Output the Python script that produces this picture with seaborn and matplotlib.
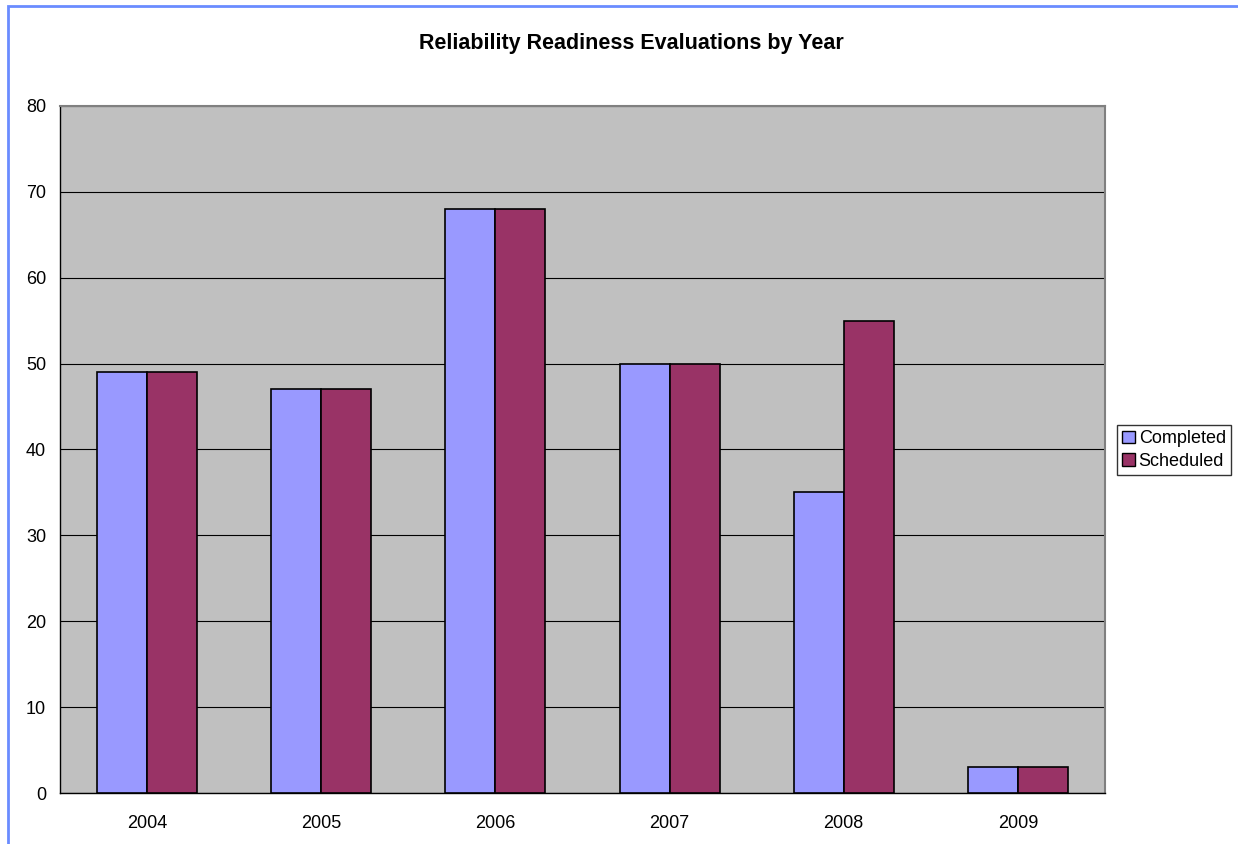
import matplotlib
matplotlib.use("Agg")
import matplotlib.pyplot as plt
import seaborn as sns
import pandas as pd
from matplotlib.patches import Rectangle, Patch
import numpy as np

years = ["2004", "2005", "2006", "2007", "2008", "2009"]
completed = [49, 47, 68, 50, 35, 3]
scheduled = [49, 47, 68, 50, 55, 3]
series_names = ["Completed", "Scheduled"]
colors = ["#9999FF", "#993366"]
yticks = [0, 10, 20, 30, 40, 50, 60, 70, 80]

df = pd.DataFrame({
    "year": years * 2,
    "value": completed + scheduled,
    "series": [series_names[0]] * len(years) + [series_names[1]] * len(years),
})

sns.set_style("white")
plt.rcParams["font.family"] = ["Liberation Sans", "DejaVu Sans"]
plt.rcParams["text.color"] = "black"
plt.rcParams["xtick.color"] = "black"
plt.rcParams["ytick.color"] = "black"

fig = plt.figure(figsize=(12.38, 8.44), dpi=100)
ax = fig.add_axes([60/1238, 1-793/844, (1105-60)/1238, (793-106)/844])
ax.set_facecolor("#C0C0C0")

sns.barplot(data=df, x="year", y="value", hue="series", palette=colors,
            width=0.574, edgecolor="black", linewidth=1.2, saturation=1,
            ax=ax, legend=False, zorder=3)

ax.set_ylim(0, 80)
ax.set_xlim(-0.5, len(years) - 0.5)
ax.set_yticks(yticks)
ax.set_yticklabels([str(v) for v in yticks], fontsize=13)
ax.yaxis.grid(True, color="black", linewidth=0.8, zorder=0)
ax.set_axisbelow(True)

# x ticks at category boundaries
ax.set_xticks(np.arange(-0.5, len(years), 1.0))
ax.set_xticklabels([""] * (len(years) + 1))
ax.set_xticks(np.arange(len(years)), minor=True)
ax.set_xticklabels(years, minor=True, fontsize=13)
ax.tick_params(axis="x", which="major", direction="out", length=6, width=1, color="black")
ax.tick_params(axis="x", which="minor", length=0, pad=16, labelcolor="black")
ax.tick_params(axis="y", direction="out", length=6, width=1, color="black", pad=4, labelcolor="black")

ax.set_xlabel("")
ax.set_ylabel("")
for s in ["top", "right"]:
    ax.spines[s].set_color("#808080")
    ax.spines[s].set_linewidth(1.5)
for s in ["left", "bottom"]:
    ax.spines[s].set_color("black")
    ax.spines[s].set_linewidth(1)

fig.text(631/1238, 1-43/844, "Reliability Readiness Evaluations by Year",
         ha="center", va="center", fontsize=15.5, fontweight="bold", color="black")

handles = [Patch(facecolor=c, edgecolor="black", linewidth=1) for c in colors]
leg = fig.legend(handles, series_names, loc="center left",
                 bbox_to_anchor=(1117/1238, 1-450/844), fontsize=13,
                 frameon=True, fancybox=False, edgecolor="black",
                 handlelength=0.7, handleheight=0.7, handletextpad=0.2,
                 borderpad=0.3, labelspacing=0.3, borderaxespad=0)
leg.get_frame().set_linewidth(1)
for t in leg.get_texts():
    t.set_color("black")

# blue outer frame (left and top)
fig.add_artist(Rectangle((8/1238, -0.05), 1.2, (1-6/844) + 0.05,
                         transform=fig.transFigure, fill=False,
                         edgecolor="#6A8CFF", linewidth=2))

fig.savefig("out.png", dpi=100)
